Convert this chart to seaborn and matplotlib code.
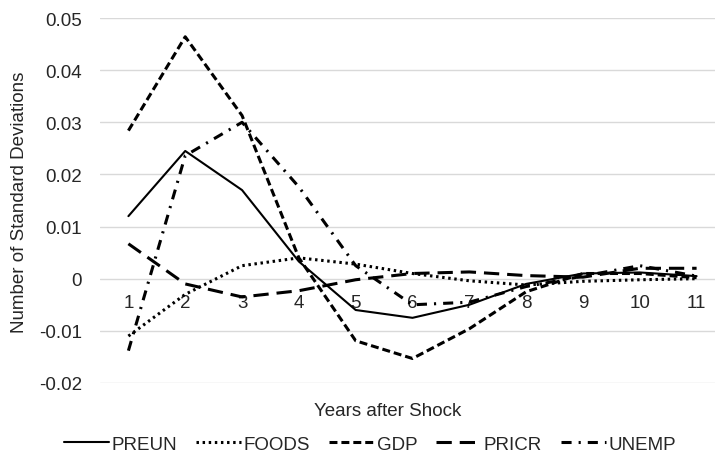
import seaborn as sns
import matplotlib.pyplot as plt
import pandas as pd

# values
years = [1, 2, 3, 4, 5, 6, 7, 8, 9, 10, 11]
preun = [0.012, 0.0245, 0.017, 0.0033, -0.006, -0.0075, -0.005, -0.001, 0.001, 0.0012, 0.0005]
foods = [-0.011, -0.003, 0.0025, 0.004, 0.0028, 0.001, -0.0004, -0.0012, -0.0005, -0.0002, 0.0]
gdp = [0.0284, 0.0464, 0.0313, 0.004, -0.0119, -0.0153, -0.0096, -0.0025, 0.001, 0.001, 0.0002]
pricr = [0.0067, -0.001, -0.0035, -0.0023, -0.0002, 0.001, 0.0013, 0.0006, 0.0003, 0.002, 0.002]
unemp = [-0.0138, 0.0236, 0.030, 0.0176, 0.0025, -0.005, -0.0045, -0.0015, 0.0005, 0.0025, 0.0005]
series_names = ["PREUN", "FOODS", "GDP", "PRICR", "UNEMP"]
y_ticks = [-0.02, -0.01, 0, 0.01, 0.02, 0.03, 0.04, 0.05]
y_tick_labels = ["-0.02", "-0.01", "0", "0.01", "0.02", "0.03", "0.04", "0.05"]

sns.set_style("white")
plt.rcParams["font.family"] = ["Liberation Sans", "DejaVu Sans"]

df = pd.DataFrame({
    "year": years * 5,
    "value": preun + foods + gdp + pricr + unemp,
    "series": [s for s in series_names for _ in years],
})

fig = plt.figure(figsize=(7.15, 4.56), dpi=100)
ax = fig.add_axes([100 / 715, 1 - 384 / 456, 625 / 715, 365 / 456])

dash_map = {
    "PREUN": "",
    "FOODS": (0.8, 1.2),
    "GDP": (2.6, 1.3),
    "PRICR": (5, 2.6),
    "UNEMP": (3.3, 2.3, 0.7, 2.3),
}
sns.lineplot(data=df, x="year", y="value", style="series", style_order=series_names,
             dashes=dash_map, color="black", linewidth=2.2, errorbar=None,
             legend=False, ax=ax)
lines = ax.get_lines()[:5]
lines[0].set_linewidth(1.5)

ax.set_xlim(0.5, 11.5)
ax.set_ylim(-0.02, 0.05)
ax.set_yticks(y_ticks)
ax.set_yticklabels(y_tick_labels)
ax.set_xticks(years)
ax.set_xticklabels([str(y) for y in years])
ax.grid(axis="y", color="#d9d9d9", linewidth=1)
ax.set_axisbelow(True)
for side in ["top", "right", "left", "bottom"]:
    ax.spines[side].set_visible(False)
ax.spines["bottom"].set_position(("data", 0))
ax.tick_params(axis="x", length=0, pad=11, labelsize=13.5)
ax.tick_params(axis="y", length=0, pad=13, labelsize=13.5)
ax.set_xlabel("")
ax.set_ylabel("")

fig.text(20 / 715, 1 - 202 / 456, "Number of Standard Deviations", rotation=90,
         ha="center", va="center", fontsize=13.5)
fig.text(388 / 715, 1 - 412 / 456, "Years after Shock", ha="center", va="center", fontsize=13.5)

fig.legend(lines, series_names, loc="center", bbox_to_anchor=(370 / 715, 1 - 445 / 456),
           ncol=5, frameon=False, fontsize=13.5, handlelength=2.4, handletextpad=0.15,
           columnspacing=1.0, borderaxespad=0)

fig.savefig("out.png", dpi=100)
